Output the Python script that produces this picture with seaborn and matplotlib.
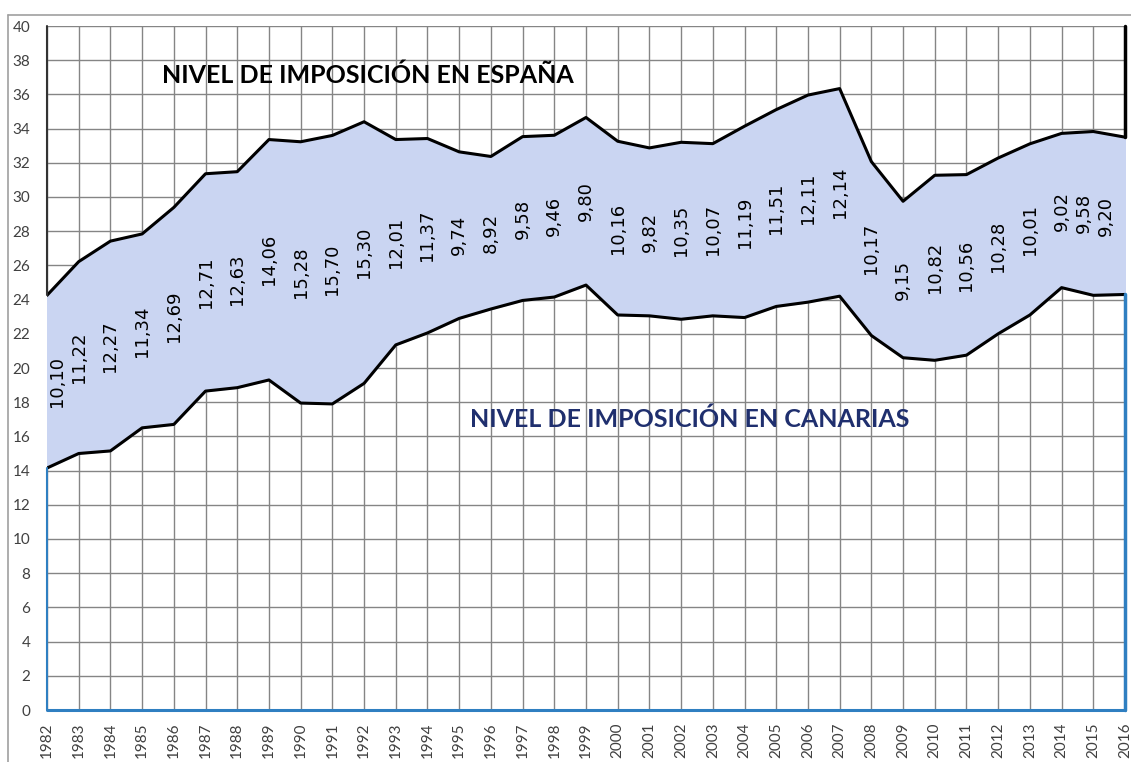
import numpy as np
import pandas as pd
import matplotlib
matplotlib.use("Agg")
import matplotlib.pyplot as plt
import seaborn as sns
from matplotlib.lines import Line2D

# datos
years = list(range(1982, 2017))
canarias = [14.15, 15.00, 15.15, 16.50, 16.70, 18.65, 18.85, 19.30, 17.95, 17.90,
            19.10, 21.35, 22.05, 22.90, 23.45, 23.95, 24.15, 24.85, 23.10, 23.05,
            22.85, 23.05, 22.95, 23.60, 23.85, 24.20, 21.90, 20.60, 20.45, 20.75,
            22.00, 23.10, 24.70, 24.25, 24.30]
diferencia = [10.10, 11.22, 12.27, 11.34, 12.69, 12.71, 12.63, 14.06, 15.28, 15.70,
              15.30, 12.01, 11.37, 9.74, 8.92, 9.58, 9.46, 9.80, 10.16, 9.82,
              10.35, 10.07, 11.19, 11.51, 12.11, 12.14, 10.17, 9.15, 10.82, 10.56,
              10.28, 10.01, 9.02, 9.58, 9.20]

df = pd.DataFrame({"year": years, "canarias": canarias, "diferencia": diferencia})
# serie apilada: Espana = Canarias + diferencia
df["espana"] = df["canarias"] + df["diferencia"]

sns.set_theme(style="white")
plt.rcParams["font.family"] = ["DejaVu Sans"]

fig = plt.figure(figsize=(11.31, 7.62), dpi=100)
ax = fig.add_axes([47 / 1131, 52 / 762, 1078 / 1131, 684 / 762])

ax.set_xlim(1982, 2016)
ax.set_ylim(0, 40)

# rejilla
ax.set_xticks(years)
ax.set_yticks(range(0, 41, 2))
ax.grid(True, color="#858585", linewidth=1.0)
ax.set_axisbelow(True)
for s in ax.spines.values():
    s.set_visible(False)

# banda entre las dos series
ax.fill_between(df["year"], df["canarias"], df["espana"], color="#cad5f2", zorder=2)
sns.lineplot(data=df, x="year", y="espana", color="black", linewidth=2.2, ax=ax, zorder=4)
sns.lineplot(data=df, x="year", y="canarias", color="black", linewidth=2.2, ax=ax, zorder=4)

# bordes de las areas (estilo excel)
blue = "#2f7fc1"
ax.plot([1982, 2016], [0, 0], color=blue, lw=2.2, zorder=5, clip_on=False)
ax.plot([1982, 1982], [0, df["canarias"].iloc[0]], color=blue, lw=1.5, zorder=5, clip_on=False)
ax.plot([2016, 2016], [0, df["canarias"].iloc[-1]], color=blue, lw=2.5, zorder=5, clip_on=False)
ax.plot([1982, 1982], [df["espana"].iloc[0], 40], color="#333333", lw=1.5, zorder=5, clip_on=False)
ax.plot([2016, 2016], [df["espana"].iloc[-1], 40], color="black", lw=2.5, zorder=5, clip_on=False)

# etiquetas de la diferencia
nudge = {1982: 0.33, 2015: -0.3, 2016: -0.6}
for yr, c, d in zip(years, canarias, diferencia):
    ax.text(yr + nudge.get(yr, 0), c + d / 2, f"{d:.2f}".replace(".", ","),
            rotation=90, ha="center", va="center", rotation_mode="anchor",
            fontsize=13, color="black", zorder=6)

ax.text(1985.63, 36.67, "NIVEL DE IMPOSICIÓN EN ESPAÑA", fontsize=18, fontweight="bold",
        family="Lato", color="black", ha="left", va="baseline", zorder=6)
ax.text(1995.34, 16.55, "NIVEL DE IMPOSICIÓN EN CANARIAS", fontsize=18, fontweight="bold",
        family="Lato", color="#1f2f6e", ha="left", va="baseline", zorder=6)

ax.set_xticklabels([str(y) for y in years], rotation=90, fontsize=11, color="#404040",
                   family="Lato")
ax.set_yticklabels([str(v) for v in range(0, 41, 2)], fontsize=11, color="#404040",
                   family="Lato")
ax.tick_params(axis="x", length=6, color="#858585", pad=3)
ax.tick_params(axis="y", length=0, pad=12)
ax.set_xlabel("")
ax.set_ylabel("")

# marco exterior del grafico
fig.add_artist(Line2D([8 / 1131, 1], [1 - 15 / 762, 1 - 15 / 762], color="#a0a0a0", lw=1.2))
fig.add_artist(Line2D([8 / 1131, 8 / 1131], [0, 1 - 15 / 762], color="#a0a0a0", lw=1.2))

fig.savefig("out.png", dpi=100)
